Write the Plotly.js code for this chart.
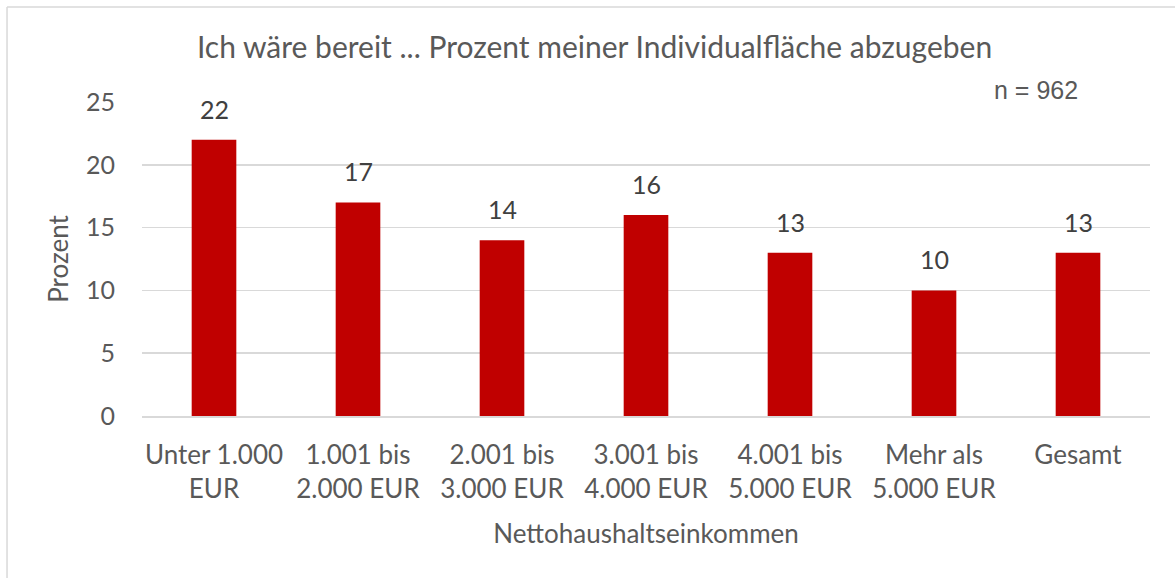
<!DOCTYPE html>
<html><head><meta charset="utf-8">
<script src="https://cdn.plot.ly/plotly-3.0.1.min.js"></script>
<style>html,body{margin:0;padding:0;background:#fff}#c{width:1175px;height:578px}</style>
</head><body><div id="c"></div>
<script>
const categories = ["Unter 1.000<br>EUR","1.001 bis<br>2.000 EUR","2.001 bis<br>3.000 EUR","3.001 bis<br>4.000 EUR","4.001 bis<br>5.000 EUR","Mehr als<br>5.000 EUR","Gesamt"];
const values = [22,17,14,16,13,10,13];
const yTicks = [0,5,10,15,20,25];
const titleText = "Ich wäre bereit ... Prozent meiner Individualfläche abzugeben";
const nText = "n = 962";

const font = "Lato, 'Open Sans', sans-serif";
const grey = "#595959";
const trace = {
  type: "bar", x: categories, y: values,
  marker: {color: "#C00000"},
  width: 0.31, hoverinfo: "none"
};
const labelAnnotations = categories.map((c, i) => ({
  x: c, y: values[i], xref: "x", yref: "y", text: String(values[i]),
  showarrow: false, xanchor: "center", yanchor: "bottom", yshift: 14,
  font: {family: font, size: 25, color: "#404040"}
}));
const layout = {
  width: 1175, height: 578,
  margin: {l: 142, r: 25, t: 102, b: 162},
  paper_bgcolor: "#fff", plot_bgcolor: "#fff",
  font: {family: font, color: grey, size: 25},
  title: {text: titleText, x: 0.506, xanchor: "center", y: 0.918, yanchor: "middle", font: {family: font, size: 30, color: grey}},
  xaxis: {
    showgrid: false, showline: true, linecolor: "#d9d9d9", linewidth: 1.5,
    tickfont: {family: font, size: 26, color: grey}, ticks: "", ticklabelstandoff: 15,
    title: {text: "Nettohaushaltseinkommen", font: {family: font, size: 26, color: grey}, standoff: 22}
  },
  yaxis: {
    range: [0, 25], tickvals: yTicks, showgrid: true, gridcolor: "#d9d9d9", gridwidth: 1.5,
    zeroline: false, ticks: "", ticklabelstandoff: 26,
    tickfont: {family: font, size: 25, color: grey},
    title: {text: "Prozent", font: {family: font, size: 26, color: grey}, standoff: 9}
  },
  showlegend: false,
  annotations: labelAnnotations.concat([{text: nText, xref: "paper", yref: "paper", x: 0.887, y: 1.038, xanchor: "center", yanchor: "middle", showarrow: false, font: {family: "'Liberation Sans', Arial, sans-serif", size: 25, color: grey}}]),
  shapes: [
    {type: "line", xref: "paper", yref: "paper", x0: -0.1339, x1: -0.1339, y0: -0.52, y1: 1.3025, line: {color: "#d9d9d9", width: 1.5}},
    {type: "line", xref: "paper", yref: "paper", x0: -0.1339, x1: 1.03, y0: 1.3025, y1: 1.3025, line: {color: "#d9d9d9", width: 1.5}}
  ]
};
Plotly.newPlot("c", [trace], layout, {staticPlot: true, displayModeBar: false});
</script></body></html>
